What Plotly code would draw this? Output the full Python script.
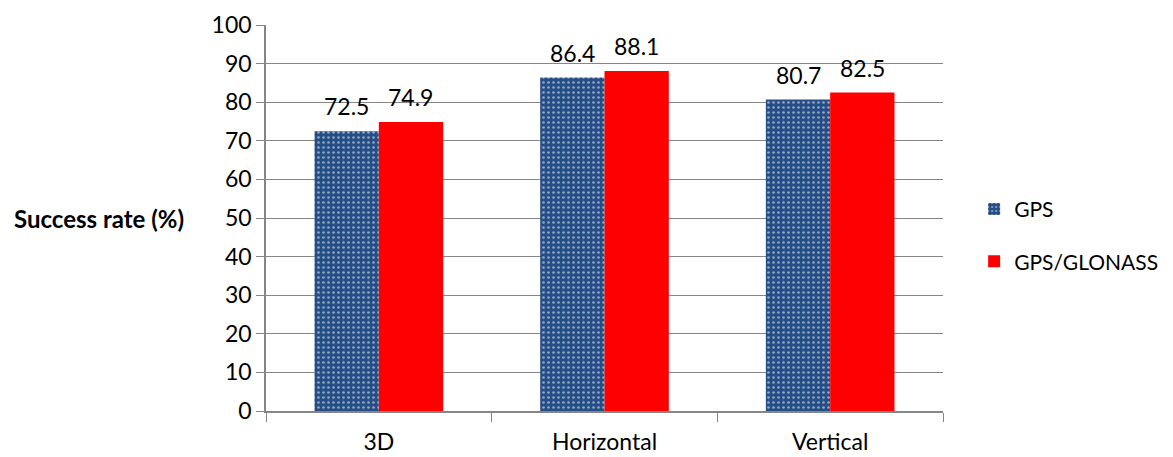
import plotly.graph_objects as go

categories = ["3D", "Horizontal", "Vertical"]
gps = [72.5, 86.4, 80.7]
gps_glonass = [74.9, 88.1, 82.5]
y_ticks = [0, 10, 20, 30, 40, 50, 60, 70, 80, 90, 100]

FONT = "Lato, 'Open Sans', sans-serif"
GRID = "#868686"
FS = 23

fig = go.Figure()
fig.add_trace(go.Bar(
    name="GPS", x=categories, y=gps,
    marker=dict(color="#254e86", line=dict(width=0),
                pattern=dict(shape=".", fgcolor="white", bgcolor="#254e86",
                             size=5, solidity=0.22, fillmode="overlay")),
    legendgroup="a",
))
fig.add_trace(go.Bar(
    name="GPS/GLONASS", x=categories, y=gps_glonass,
    marker=dict(color="#ff0000", line=dict(width=0)),
    legendgroup="b",
))

# value labels above each bar
for i, (a, b) in enumerate(zip(gps, gps_glonass)):
    for off, v in ((-0.142, a), (0.142, b)):
        fig.add_annotation(x=i + off, y=v, text=f"{v}", showarrow=False,
                           yanchor="bottom", yshift=9, xref="x", yref="y",
                           font=dict(family=FONT, size=FS, color="black"))

fig.add_annotation(x=-254 / 677, y=0.5, xref="paper", yref="paper",
                   text="<b>Success rate (%)</b>", showarrow=False,
                   xanchor="left", font=dict(family=FONT, size=24, color="black"))

fig.update_layout(
    width=1173, height=457,
    margin=dict(l=266, r=230, t=25, b=46, autoexpand=False),
    plot_bgcolor="white", paper_bgcolor="white",
    barmode="group", bargap=0.43, bargroupgap=0,
    font=dict(family=FONT, size=FS, color="black"),
    legend=dict(x=1.046, y=0.455, xanchor="left", yanchor="middle",
                font=dict(family=FONT, size=21), tracegroupgap=22,
                itemwidth=30),
    showlegend=True,
)
fig.update_xaxes(
    type="category", showline=True, linecolor=GRID, linewidth=1.5,
    ticks="outside", tickson="boundaries", ticklen=9, tickcolor=GRID,
    showgrid=False, tickfont=dict(family=FONT, size=FS), ticklabelstandoff=10,
)
fig.update_yaxes(
    range=[0, 100], tickvals=y_ticks, showline=True, linecolor=GRID, linewidth=1.5,
    ticks="outside", ticklen=8, tickcolor=GRID, showgrid=True, gridcolor=GRID,
    gridwidth=1, zeroline=False, tickfont=dict(family=FONT, size=FS),
)

fig.write_html("out.html")
